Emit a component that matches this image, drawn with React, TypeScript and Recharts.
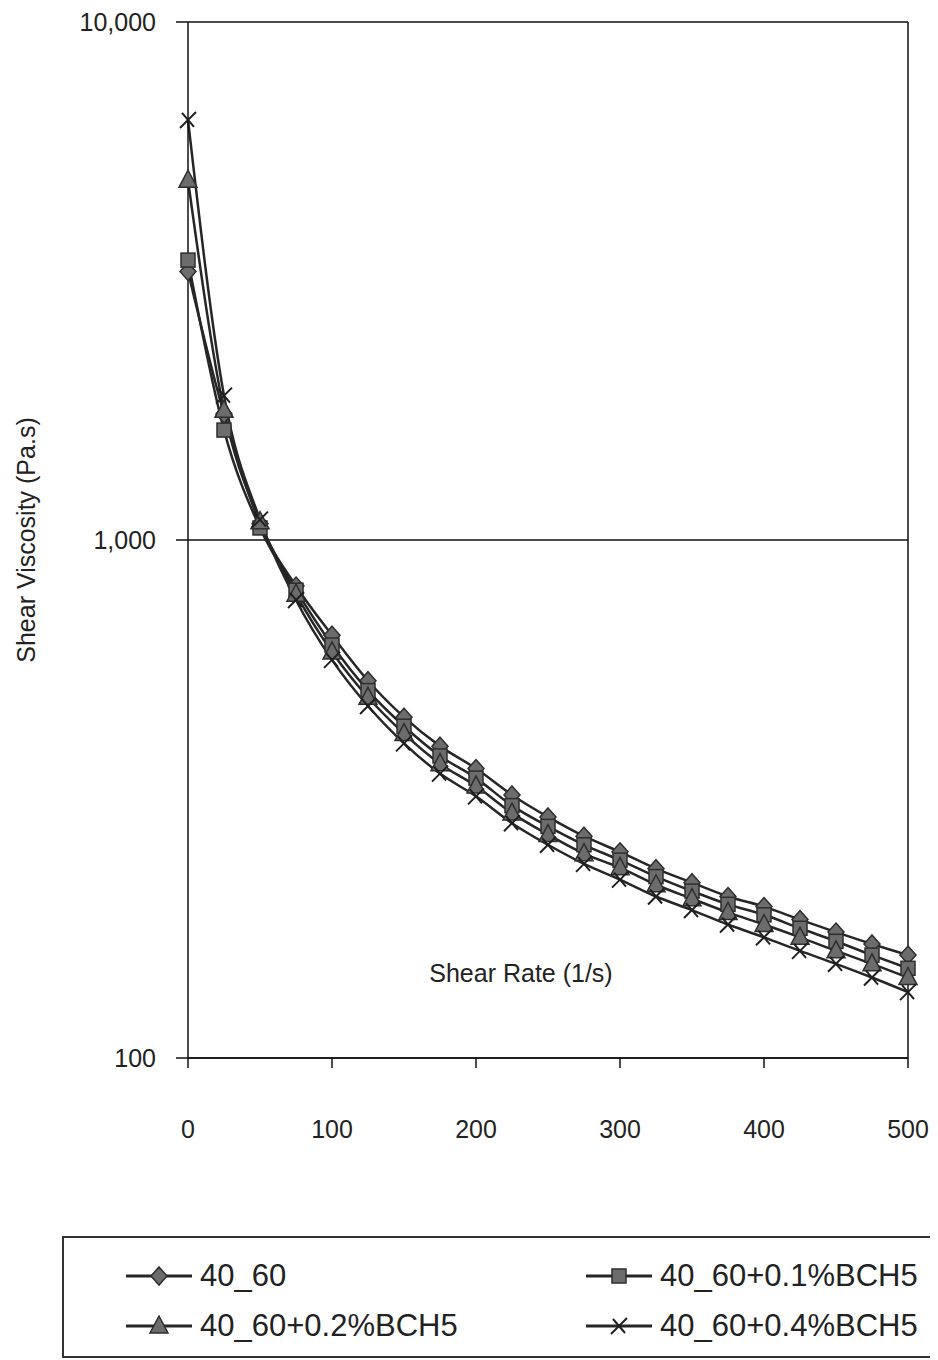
import React from 'react';
import { LineChart, Line, XAxis, YAxis, CartesianGrid, ReferenceLine, Legend } from 'recharts';

// Shear rate (1/s) sampled every 25 s^-1
const shearRate = [0, 25, 50, 75, 100, 125, 150, 175, 200, 225, 250, 275, 300, 325, 350, 375, 400, 425, 450, 475, 500];

// Shear viscosity (Pa.s) for each blend
const visc4060 = [3300, 1750, 1075, 815, 655, 535, 455, 400, 362, 322, 292, 268, 250, 232, 218, 205, 196, 185, 175, 166, 158];
const visc01 = [3470, 1630, 1055, 800, 627, 512, 437, 383, 347, 307, 280, 258, 241, 224, 210, 198, 189, 178, 168, 158, 149];
const visc02 = [4950, 1780, 1085, 786, 608, 497, 423, 370, 335, 297, 270, 248, 233, 216, 203, 191, 181, 171, 161, 152, 143];
const visc04 = [6470, 1900, 1095, 766, 587, 478, 405, 354, 320, 284, 258, 237, 221, 205, 193, 181, 171, 161, 152, 143, 134];

const seriesNames = ['40_60', '40_60+0.1%BCH5', '40_60+0.2%BCH5', '40_60+0.4%BCH5'];
const seriesKeys = ['s0', 's1', 's2', 's3'];
const seriesValues = [visc4060, visc01, visc02, visc04];
const markerKinds = ['diamond', 'square', 'triangle', 'cross'];

const yTicks = [100, 1000, 10000];
const xTicks = [0, 100, 200, 300, 400, 500];

const rows = shearRate.map((rate, i) => {
  const row: Record<string, number> = { rate };
  seriesKeys.forEach((k, j) => {
    row[k] = seriesValues[j][i];
  });
  return row;
});

const FONT = '"Liberation Sans", Arial, Helvetica, sans-serif';
const LINE = '#262626';
const FILL = '#6c6c6c';
const EDGE = '#2e2e2e';

function Marker({ kind, cx, cy }: { kind: string; cx: number; cy: number }) {
  if (kind === 'diamond') {
    return (
      <polygon
        points={`${cx},${cy - 9} ${cx + 8},${cy} ${cx},${cy + 9} ${cx - 8},${cy}`}
        fill={FILL}
        stroke={EDGE}
        strokeWidth={1.5}
      />
    );
  }
  if (kind === 'square') {
    return <rect x={cx - 7} y={cy - 7} width={14} height={14} fill={FILL} stroke={EDGE} strokeWidth={1.5} />;
  }
  if (kind === 'triangle') {
    return (
      <polygon
        points={`${cx},${cy - 10} ${cx + 9},${cy + 7} ${cx - 9},${cy + 7}`}
        fill={FILL}
        stroke={EDGE}
        strokeWidth={1.5}
      />
    );
  }
  return (
    <g stroke="#1e1e1e" strokeWidth={2}>
      <line x1={cx - 8} y1={cy + 8} x2={cx + 8} y2={cy - 8} />
      <line x1={cx - 6} y1={cy - 7} x2={cx + 6} y2={cy + 7} />
    </g>
  );
}

const makeDot = (kind: string) => (props: any) => {
  const { cx, cy, index } = props;
  if (cx == null || cy == null) return <g key={`d-${kind}-${index}`} />;
  return (
    <g key={`d-${kind}-${index}`}>
      <Marker kind={kind} cx={cx} cy={cy} />
    </g>
  );
};

function LegendIcon({ kind }: { kind: string }) {
  return (
    <svg width={66} height={24} style={{ display: 'block' }}>
      <line x1={0} y1={12} x2={66} y2={12} stroke={LINE} strokeWidth={3} />
      <Marker kind={kind} cx={33} cy={12} />
    </svg>
  );
}

function LegendBox() {
  const item = (j: number) => (
    <div style={{ display: 'flex', alignItems: 'center', gap: 8, whiteSpace: 'nowrap' }}>
      <LegendIcon kind={markerKinds[j]} />
      <span style={{ fontFamily: FONT, fontSize: 31, color: '#222' }}>{seriesNames[j]}</span>
    </div>
  );
  // the box runs off the right edge of the page, so it has no right border
  return (
    <div
      style={{
        boxSizing: 'border-box',
        width: 1000,
        height: 122,
        borderTop: '2px solid #333',
        borderBottom: '2px solid #333',
        borderLeft: '2px solid #333',
        borderRight: 'none',
        background: '#fff',
        position: 'relative',
      }}
    >
      <div style={{ position: 'absolute', left: 62, top: 20 }}>{item(0)}</div>
      <div style={{ position: 'absolute', left: 522, top: 20 }}>{item(1)}</div>
      <div style={{ position: 'absolute', left: 62, top: 70 }}>{item(2)}</div>
      <div style={{ position: 'absolute', left: 522, top: 70 }}>{item(3)}</div>
    </div>
  );
}

export default function App() {
  return (
    <div style={{ width: 930, height: 1352, overflow: 'hidden', background: '#fff' }}>
      <LineChart width={930} height={1352} data={rows} margin={{ top: 14, right: 30, bottom: 192, left: 0 }}>
        <CartesianGrid vertical={false} stroke="#111" strokeWidth={1.5} />
        <XAxis
          type="number"
          dataKey="rate"
          domain={[0, 500]}
          ticks={xTicks}
          height={110}
          tickSize={10}
          tickMargin={52}
          axisLine={{ stroke: '#111', strokeWidth: 1.5 }}
          tickLine={{ stroke: '#111', strokeWidth: 1.5 }}
          tick={{ fill: '#222', fontSize: 25, fontFamily: FONT }}
          label={{
            value: 'Shear Rate (1/s)',
            position: 'top',
            offset: 76,
            dx: -27,
            fill: '#222',
            fontSize: 25,
            fontFamily: FONT,
          }}
        />
        <YAxis
          scale="log"
          domain={[100, 10000]}
          allowDataOverflow
          ticks={yTicks}
          width={180}
          tickSize={12}
          tickMargin={20}
          tickFormatter={(v: number) => v.toLocaleString('en-US')}
          axisLine={{ stroke: '#111', strokeWidth: 1.5 }}
          tickLine={{ stroke: '#111', strokeWidth: 1.5 }}
          tick={{ fill: '#222', fontSize: 25, fontFamily: FONT }}
          label={{
            value: 'Shear Viscosity (Pa.s)',
            angle: -90,
            position: 'center',
            dx: -72,
            fill: '#222',
            fontSize: 25,
            fontFamily: FONT,
          }}
        />
        <ReferenceLine x={500} stroke="#111" strokeWidth={1.5} />
        {seriesKeys.map((k, j) => (
          <Line
            key={k}
            dataKey={k}
            name={seriesNames[j]}
            type="monotone"
            stroke={LINE}
            strokeWidth={2.5}
            dot={makeDot(markerKinds[j])}
            activeDot={false}
            isAnimationActive={false}
          />
        ))}
        <Legend
          layout="horizontal"
          verticalAlign="middle"
          align="center"
          wrapperStyle={{ position: 'absolute', left: 54, top: 1228, width: 1000, height: 122 }}
          content={() => <LegendBox />}
        />
      </LineChart>
    </div>
  );
}
